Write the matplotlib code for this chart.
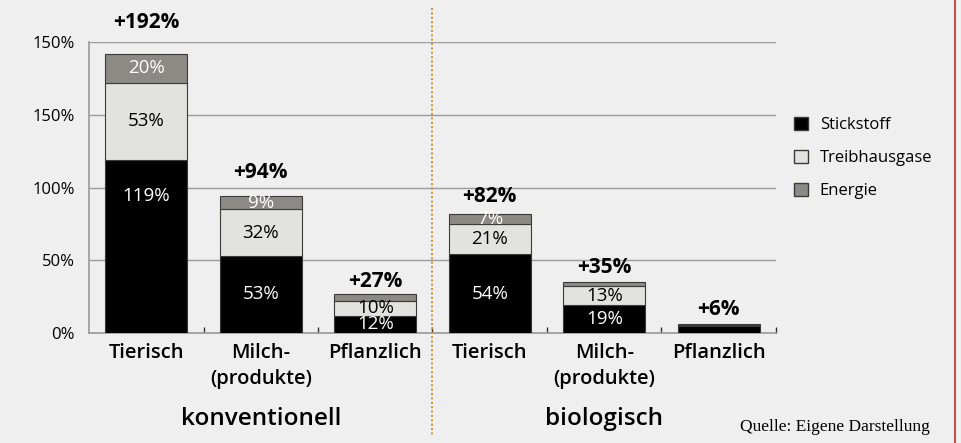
import matplotlib
matplotlib.use("Agg")
import matplotlib.pyplot as plt
from matplotlib.patches import Patch
from matplotlib.lines import Line2D
from matplotlib.transforms import blended_transform_factory

plt.rcParams['font.family'] = ['Open Sans', 'DejaVu Sans']

# daten
kategorien = ["Tierisch", "Milch-\n(produkte)", "Pflanzlich",
              "Tierisch", "Milch-\n(produkte)", "Pflanzlich"]
gruppen = ["konventionell", "biologisch"]
stickstoff = [119, 53, 12, 54, 19, 5]
treibhausgase = [53, 32, 10, 21, 13, 0.5]
energie = [20, 9, 5, 7, 3, 0.5]
stick_txt = ["119%", "53%", "12%", "54%", "19%", ""]
thg_txt = ["53%", "32%", "10%", "21%", "13%", ""]
energie_txt = ["20%", "9%", "", "7%", "", ""]
total_txt = ["+192%", "+94%", "+27%", "+82%", "+35%", "+6%"]
ytick_werte = [0, 50, 100, 150, 200]
ytick_txt = ["0%", "50%", "100%", "150%", "150%"]

# layout
bg = '#efefef'
farbe_stick = '#000000'
farbe_thg = '#e2e2de'
farbe_energie = '#8c8a85'
kante = '#3a3a3a'
abstand_total = [21, 13, 2, 7, 4, 4]   # px über balken
pos_stick = [0.79, 0.5, 0.5, 0.5, 0.5, 0.5]  # lage der beschriftung im segment

fig = plt.figure(figsize=(9.62, 4.43), dpi=100, facecolor=bg)
ax = fig.add_axes([89/962, 1-333/443, 687/962, 291/443], facecolor=bg)

x = list(range(len(kategorien)))
b = 0.72
ax.bar(x, stickstoff, width=b, color=farbe_stick, edgecolor=kante, linewidth=0.8, zorder=3)
bottom2 = stickstoff
ax.bar(x, treibhausgase, width=b, bottom=bottom2, color=farbe_thg, edgecolor=kante, linewidth=0.8, zorder=3)
bottom3 = [s + t for s, t in zip(stickstoff, treibhausgase)]
ax.bar(x, energie, width=b, bottom=bottom3, color=farbe_energie, edgecolor=kante, linewidth=0.8, zorder=3)

# beschriftungen in den segmenten
for i in x:
    if stick_txt[i]:
        ax.text(i, stickstoff[i]*pos_stick[i], stick_txt[i], ha='center', va='center',
                color='white', fontsize=13.5, fontweight='medium', zorder=4)
    if thg_txt[i]:
        ax.text(i, stickstoff[i] + treibhausgase[i]/2, thg_txt[i], ha='center', va='center',
                color='black', fontsize=13.5, fontweight='medium', zorder=4)
    if energie_txt[i]:
        ax.text(i, bottom3[i] + energie[i]/2, energie_txt[i], ha='center', va='center',
                color='white', fontsize=13.5, fontweight='medium', zorder=4)
    total = bottom3[i] + energie[i]
    ax.annotate(total_txt[i], (i, total), xytext=(0, abstand_total[i]*0.72),
                textcoords='offset points', ha='center', va='bottom',
                fontsize=15, fontweight='bold', zorder=4)

ax.set_xlim(-0.5, 5.5)
ax.set_ylim(0, 200)
ax.set_yticks(ytick_werte)
ax.set_yticklabels(ytick_txt, fontsize=12)
ax.tick_params(axis='y', length=0, pad=10)
ax.set_xticks(x)
ax.set_xticklabels(kategorien, fontsize=14.5, linespacing=1.4, fontweight='semibold')
ax.tick_params(axis='x', which='major', length=0, pad=7)
ax.set_xticks([i + 0.5 for i in x], minor=True)
ax.tick_params(axis='x', which='minor', direction='in', length=4.5, width=1, color='#333333')
ax.yaxis.grid(True, color='#9a9a9a', linewidth=1)
ax.set_axisbelow(True)
for s in ['top', 'right']:
    ax.spines[s].set_visible(False)
for s in ['left', 'bottom']:
    ax.spines[s].set_color('#9a9a9a')
    ax.spines[s].set_linewidth(1.2)

trans = blended_transform_factory(ax.transData, fig.transFigure)
# trennlinie zwischen den gruppen
fig.add_artist(Line2D([2.5, 2.5], [1-8/443, 1-435/443], transform=trans, color='#d49a3a',
                      linestyle=(0, (1, 1.1)), linewidth=1.5, dash_capstyle='butt'))
# gruppen
ax.text(1, 1-419/443, gruppen[0], transform=trans, ha='center', va='center',
        fontsize=17.5, fontweight='semibold', clip_on=False)
ax.text(4, 1-419/443, gruppen[1], transform=trans, ha='center', va='center',
        fontsize=17.5, fontweight='semibold', clip_on=False)

handles = [Patch(facecolor=farbe_stick, edgecolor=kante, label='Stickstoff'),
           Patch(facecolor=farbe_thg, edgecolor=kante, label='Treibhausgase'),
           Patch(facecolor=farbe_energie, edgecolor=kante, label='Energie')]
fig.legend(handles=handles, loc='center left', bbox_to_anchor=(779/962, 1-158/443),
           frameon=False, fontsize=12, handlelength=0.85, handleheight=0.85,
           handletextpad=0.7, labelspacing=1.0)

fig.text(930/962, 1-427/443, "Quelle: Eigene Darstellung", ha='right', va='center',
         fontsize=12.5, family='Liberation Serif')

# roter rahmen rechts
fig.add_artist(Line2D([955/962, 955/962], [0, 1], transform=fig.transFigure,
                      color='#c0504d', linewidth=1.5))

fig.savefig('out.png', dpi=100, facecolor=bg)
